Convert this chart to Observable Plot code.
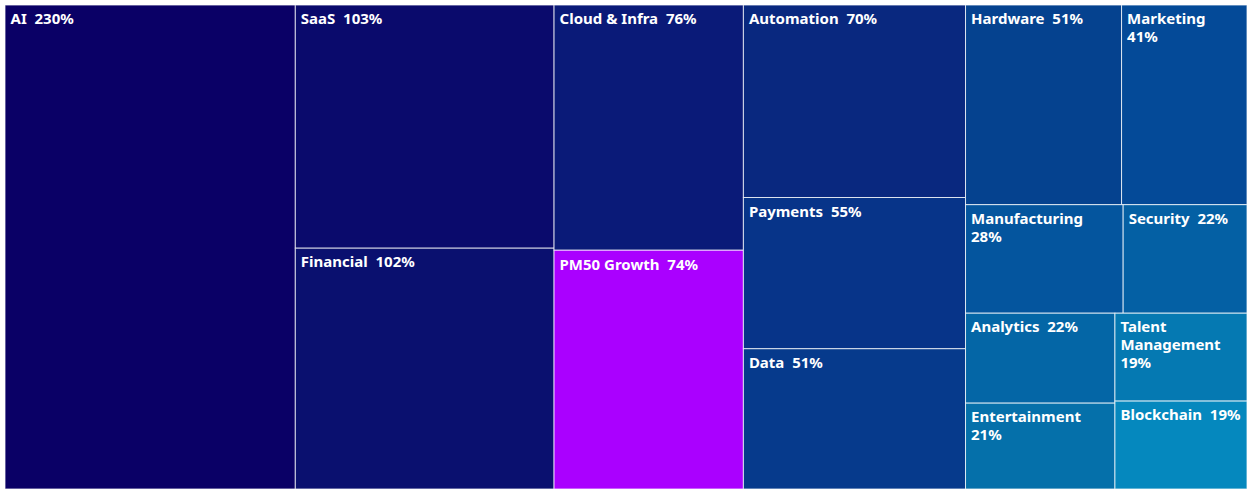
<!DOCTYPE html>
<html><head><meta charset="utf-8">
<script src="https://cdn.jsdelivr.net/npm/d3@7"></script>
<script src="https://cdn.jsdelivr.net/npm/@observablehq/plot@0.6"></script>
<style>body{margin:0;background:#fff}</style>
</head><body><div id="chart"></div>
<script>
const sectors = ["AI","SaaS","Financial","Cloud & Infra","PM50 Growth","Automation","Payments","Data","Hardware","Marketing","Manufacturing","Security","Analytics","Entertainment","Talent Management","Blockchain"];
const growth = [230,103,102,76,74,70,55,51,51,41,28,22,22,21,19,19];
const highlight = "PM50 Growth";
const highlightColor = "#aa00ff";
const palette = ["#0a0066","#0a0a6c","#0a106f","#0a1a78","#09287f","#073489","#063a8c","#05428f","#044a98","#04559e","#0460a4","#0466a6","#0570aa","#0579b2","#0588be"];

const W = 1242, H = 484;
const root = d3.hierarchy({children: sectors.map((name, i) => ({name, value: growth[i]}))}).sum(d => d.value || 0);
d3.treemap().tile(d3.treemapSquarify.ratio(1)).size([W, H]).round(false)(root);

const ctx = document.createElement("canvas").getContext("2d");
const fontSize = 15, font = `bold ${fontSize}px 'Noto Sans'`;
ctx.font = font;
const gap = "\u00a0\u00a0";
function wrap(name, val, width) {
  const tokens = name.split(" ").map(t => ({t, sep: " "}));
  tokens.push({t: val + "%", sep: gap});
  const lines = [];
  let cur = "";
  for (const {t, sep} of tokens) {
    if (!cur) { cur = t; continue; }
    const trial = cur + sep + t;
    if (ctx.measureText(trial).width <= width) cur = trial;
    else { lines.push(cur); cur = t; }
  }
  lines.push(cur);
  return lines.join("\n");
}

let k = 0;
const cells = root.leaves().map(l => {
  const name = l.data.name;
  const color = name === highlight ? highlightColor : palette[k++];
  return {name, value: l.data.value, x0: l.x0, y0: l.y0, x1: l.x1, y1: l.y1, color,
    label: wrap(name, l.data.value, l.x1 - l.x0 - 10)};
});

const chart = Plot.plot({
  width: 1252, height: 494,
  marginTop: 5, marginBottom: 5, marginLeft: 5, marginRight: 5,
  x: {domain: [0, W], axis: null},
  y: {domain: [0, H], axis: null, reverse: true},
  style: {fontFamily: "'Noto Sans', sans-serif", background: "#fff"},
  marks: [
    Plot.rect(cells, {x1: "x0", x2: "x1", y1: "y0", y2: "y1", fill: "color", stroke: "white", strokeOpacity: 0.75, strokeWidth: 1}),
    Plot.text(cells, {x: "x0", y: "y0", text: "label", textAnchor: "start", lineAnchor: "top", dx: 5, dy: 6,
      fill: "white", fontSize: fontSize, fontWeight: "bold", lineHeight: 1.2})
  ]
});
document.getElementById("chart").appendChild(chart);
</script>
</body></html>
